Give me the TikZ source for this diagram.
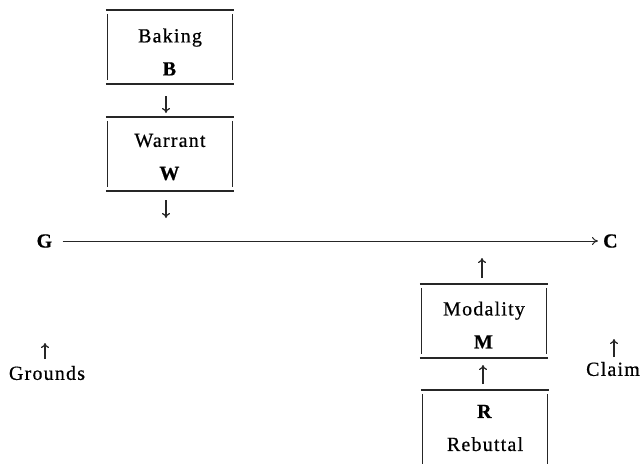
\documentclass[tikz,border=0pt]{standalone}
\usepackage{fontspec}
\setmainfont{Liberation Serif}[LetterSpace=6, FakeBold=0.6]
\usetikzlibrary{arrows.meta}
\tikzset{
  lbl/.style={font=\fontsize{20}{22}\selectfont, inner sep=0pt, align=center},
  boxtext/.style={lbl, minimum width=124pt, minimum height=74pt},
  ln/.style={line width=1.5pt, black!85},
  side/.style={line width=1.3pt, black!85},
  mainln/.style={line width=1pt, black!85, -{To[length=6pt,width=8pt]}},
  arr/.style={line width=1.4pt, black!85, -{To[length=5pt,width=8pt,line width=1.2pt]}},
}
\begin{document}
\begin{tikzpicture}[x=1pt,y=-1pt]
\clip (0,0) rectangle (644,463);
\fill[white] (0,0) rectangle (644,463);
% boxes (text centre, then frame shift)
\node[boxtext] (bak) at (170,52) {Baking\\[11pt]\textbf{B}};
\node[boxtext] (war) at (170,157) {Warrant\\[11pt]\textbf{W}};
\node[boxtext] (mod) at (484,325) {Modality\\[11pt]\textbf{M}};
\node[boxtext] (reb) at (485,428) {\textbf{R}\\[11pt]Rebuttal};
\foreach \b/\s in {bak/5pt,war/3pt,mod/4pt}{
  \draw[ln] ([xshift=-2pt,yshift=\s]\b.north west) -- ([xshift=2pt,yshift=\s]\b.north east);
  \draw[ln] ([xshift=-2pt,yshift=\s]\b.south west) -- ([xshift=2pt,yshift=\s]\b.south east);
  \draw[side] ([yshift=\s-4pt]\b.north west) -- ([yshift=\s+4pt]\b.south west);
  \draw[side] ([yshift=\s-4pt]\b.north east) -- ([yshift=\s+4pt]\b.south east);
}
% Rebuttal frame runs off the bottom edge
\draw[ln] ([xshift=-2pt,yshift=1pt]reb.north west) -- ([xshift=2pt,yshift=1pt]reb.north east);
\draw[side] ([yshift=-3pt]reb.north west) -- ([yshift=-6pt]reb.south west);
\draw[side] ([yshift=-3pt]reb.north east) -- ([yshift=-6pt]reb.south east);
% G and C
\node[lbl] (g) at (45,241) {\textbf{G}};
\node[lbl] (c) at (611,241) {\textbf{C}};
\draw[mainln] ([xshift=9pt]g.east) -- ([xshift=-5pt]c.west);
% labels
\node[lbl] (gr) at (47,373) {Grounds};
\node[lbl] (cl) at (613,369) {Claim};
% arrow end points
\coordinate (a1s) at (166,96);  \coordinate (a1e) at (166,113);
\coordinate (a2s) at (166,200); \coordinate (a2e) at (166,218);
\coordinate (a3s) at (482,278); \coordinate (a3e) at (482,258);
\coordinate (a4s) at (483,384); \coordinate (a4e) at (483,365);
\coordinate (a5s) at (45,359);  \coordinate (a5e) at (45,343);
\coordinate (a6s) at (614,357); \coordinate (a6e) at (614,339);
\draw[arr] (a1s) -- (a1e);
\draw[arr] (a2s) -- (a2e);
\draw[arr] (a3s) -- (a3e);
\draw[arr] (a4s) -- (a4e);
\draw[arr] (a5s) -- (a5e);
\draw[arr] (a6s) -- (a6e);
\end{tikzpicture}
\end{document}
